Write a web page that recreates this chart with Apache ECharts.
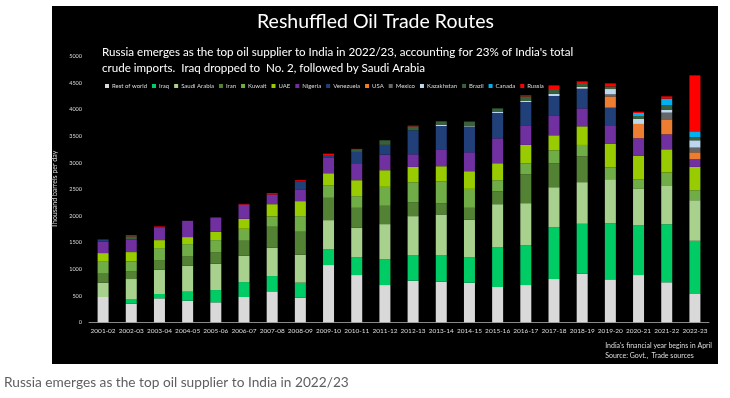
<!DOCTYPE html>
<html>
<head>
<meta charset="utf-8">
<title>Reshuffled Oil Trade Routes</title>
<script src="https://cdn.jsdelivr.net/npm/echarts@6/dist/echarts.min.js"></script>
<style>
	body { margin: 0; background: #fff; }
	#chart { width: 730px; height: 398px; }
</style>
</head>
<body>
<div id="chart"></div>
<script>
// thousand barrels per day, India's fiscal years
var years = ['2001-02','2002-03','2003-04','2004-05','2005-06','2006-07','2007-08','2008-09','2009-10','2010-11','2011-12',
	'2012-13','2013-14','2014-15','2015-16','2016-17','2017-18','2018-19','2019-20','2020-21','2021-22','2022-23'];

var restOfWorld = [476, 351, 451, 407, 376, 476, 582, 463, 1077, 889, 701, 783, 764, 745, 664, 701, 814, 914, 808, 889, 753, 532];
var iraq       = [0, 87, 81, 169, 231, 281, 288, 282, 300, 338, 488, 482, 501, 482, 743, 751, 976, 939, 1057, 932, 1092, 1001];
var saudi      = [269, 376, 457, 488, 495, 495, 532, 526, 545, 551, 658, 732, 763, 701, 815, 789, 751, 783, 827, 689, 733, 764];
var iran       = [169, 150, 182, 182, 219, 282, 395, 432, 419, 375, 344, 263, 207, 225, 244, 545, 451, 488, 0, 0, 0, 0];
var kuwait     = [225, 182, 225, 225, 225, 225, 194, 294, 238, 220, 357, 375, 419, 357, 207, 200, 244, 212, 219, 182, 238, 188];
var uae        = [163, 175, 150, 132, 157, 188, 231, 282, 225, 300, 313, 288, 282, 332, 319, 351, 282, 351, 444, 438, 438, 438];
var nigeria    = [219, 238, 232, 306, 269, 269, 182, 212, 288, 319, 294, 238, 319, 357, 469, 369, 376, 338, 338, 332, 282, 144];
var venezuela  = [38, 0, 0, 0, 0, 0, 0, 163, 40, 213, 182, 451, 438, 476, 476, 438, 363, 369, 344, 0, 0, 0];
var usa        = [0, 0, 0, 0, 0, 0, 0, 0, 0, 0, 0, 0, 0, 0, 0, 0, 0, 0, 213, 269, 282, 131];
var mexico     = [0, 0, 0, 0, 0, 0, 0, 0, 0, 0, 0, 0, 0, 0, 0, 0, 0, 0, 38, 0, 125, 88];
var kazakhstan = [0, 0, 0, 0, 0, 0, 0, 0, 0, 0, 0, 0, 25, 13, 19, 19, 44, 38, 100, 94, 57, 138];
var brazil     = [0, 60, 0, 0, 0, 0, 0, 0, 0, 38, 87, 75, 63, 88, 68, 88, 88, 69, 50, 56, 81, 56];
var canada     = [0, 0, 0, 0, 0, 0, 0, 0, 0, 0, 0, 0, 0, 0, 0, 0, 0, 0, 0, 56, 125, 113];
var russia     = [0, 20, 25, 0, 0, 12, 25, 19, 40, 19, 0, 12, 0, 0, 0, 19, 68, 31, 56, 25, 44, 1052];

var countries = ['Rest of world','Iraq','Saudi Arabia','Iran','Kuwait','UAE','Nigeria','Venezuela','USA','Mexico','Kazakhstan','Brazil','Canada','Russia'];
var values = [restOfWorld, iraq, saudi, iran, kuwait, uae, nigeria, venezuela, usa, mexico, kazakhstan, brazil, canada, russia];
var colors = ['#d9d9d9','#00cc66','#a9d18e','#548235','#70ad47','#99cc00','#7030a0','#21407a','#ed7d31','#666666','#bdd7ee','#38603a','#00b0f0','#ff0000'];

var yTicks = [0, 500, 5000];

var series = [];
for (var i = 0; i < countries.length; i++) {
	series.push({
		name: countries[i],
		type: 'bar',
		stack: 'total',
		barWidth: 11,
		itemStyle: { color: colors[i] },
		data: values[i]
	});
}

var chart = echarts.init(document.getElementById('chart'));
chart.setOption({
	animation: false,
	textStyle: { fontFamily: 'Lato' },
	graphic: [
		{ type: 'rect', z: -10, shape: { x: 52, y: 6, width: 666, height: 358 }, style: { fill: '#000' } },
		{ type: 'text', left: 257, top: 12, style: { text: 'Reshuffled Oil Trade Routes', fill: '#fff', font: '19.5px Lato' } },
		{ type: 'text', left: 102, top: 44, style: { text: "Russia emerges as the top oil supplier to India in 2022/23, accounting for 23% of India's total\ncrude imports.  Iraq dropped to  No. 2, followed by Saudi Arabia", fill: '#fff', font: '11.6px Lato', lineHeight: 16 } },
		{ type: 'text', right: 18, top: 341, style: { text: "India's financial year begins in April\nSource: Govt.,  Trade sources", fill: '#ddd', font: '7px Lato', align: 'right', lineHeight: 10 } },
		{ type: 'text', left: 4, top: 376, style: { text: 'Russia emerges as the top oil supplier to India in 2022/23', fill: '#5f5f5f', font: '13.7px Lato' } }
	],
	legend: {
		left: 100,
		top: 78,
		itemWidth: 4,
		itemHeight: 4,
		itemGap: 5,
		icon: 'rect',
		textStyle: { color: '#ddd', fontSize: 6, padding: [0, 0, 0, -2] },
		data: countries
	},
	grid: { left: 89, right: 21, top: 56.5, bottom: 75.7 },
	xAxis: {
		type: 'category',
		data: years,
		axisTick: { show: false },
		axisLine: { lineStyle: { color: '#888' } },
		axisLabel: { color: '#ddd', fontSize: 6.5, margin: 5, interval: 0 }
	},
	yAxis: {
		type: 'value',
		min: yTicks[0],
		max: yTicks[2],
		interval: yTicks[1],
		name: 'Thousand barrels per day',
		nameLocation: 'middle',
		nameGap: 26,
		nameTextStyle: { color: '#ddd', fontSize: 7 },
		nameRotate: 90,
		splitLine: { show: false },
		axisLine: { show: false },
		axisLabel: { color: '#ddd', fontSize: 5.5, margin: 7, formatter: function (v) { return String(v); } }
	},
	series: series
});
</script>
</body>
</html>
